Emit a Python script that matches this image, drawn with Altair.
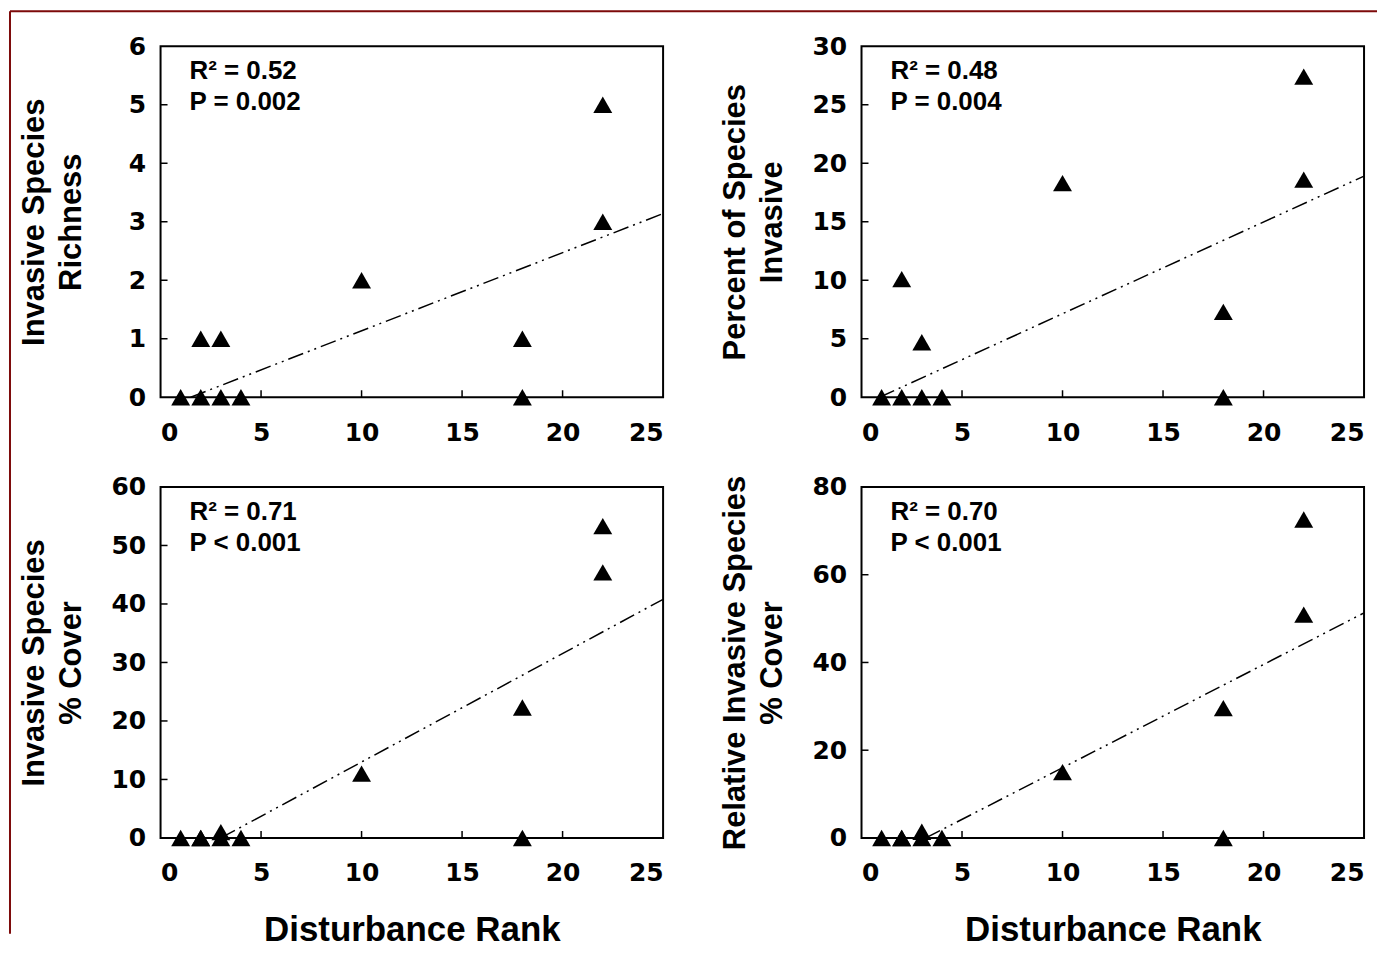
import altair as alt
import pandas as pd

# ---- data ----
rank = [1, 2, 2, 3, 3, 4, 10, 18, 18, 22, 22]
richness = [0, 0, 1, 0, 1, 0, 2, 1, 0, 5, 3]
pct_invasive = [0, 0, 10.1, 0, 4.7, 0, 18.3, 7.3, 0, 27.4, 18.6]
cover = [0, 0, 0, 1.0, 0, 0, 11.0, 22.3, 0, 53.3, 45.4]
rel_cover = [0, 0, 0, 1.4, 0, 0, 15.0, 29.6, 0, 72.6, 50.9]

fit_richness_x = [1.5, 25]
fit_richness_y = [0, 3.14]
fit_pct_x = [0.9, 25]
fit_pct_y = [0, 18.9]
fit_cover_x = [3.0, 25]
fit_cover_y = [0, 40.8]
fit_rel_x = [3.2, 25]
fit_rel_y = [0, 51.3]

x_ticks = [0, 5, 10, 15, 20, 25]
richness_ticks = [0, 1, 2, 3, 4, 5, 6]
pct_ticks = [0, 5, 10, 15, 20, 25, 30]
cover_ticks = [0, 10, 20, 30, 40, 50, 60]
rel_ticks = [0, 20, 40, 60, 80]

titles = [
    ["Invasive Species", "Richness"],
    ["Percent of Species", "Invasive"],
    ["Invasive Species", "% Cover"],
    ["Relative Invasive Species", "% Cover"],
]
r2_text = ["R² = 0.52", "R² = 0.48", "R² = 0.71", "R² = 0.70"]
p_text = ["P = 0.002", "P = 0.004", "P < 0.001", "P < 0.001"]
x_title = "Disturbance Rank"

W, H = 504, 352
TICK = 7
FRAME_RED = "#7d0a0a"


def panel(ys, fx, fy, yticks, ytitle, r2, p, show_xtitle, frame=False):
    ymax = yticks[-1]
    xs = alt.Scale(domain=[0, 25], nice=False, zero=False)
    ysc = alt.Scale(domain=[0, ymax], nice=False)
    pts = pd.DataFrame({"x": rank, "y": ys})
    fit = pd.DataFrame({"x": fx, "y": fy})
    xaxis = alt.Axis(
        values=x_ticks,
        ticks=False,
        domain=False,
        grid=False,
        labelPadding=23,
        titleY=103,
        titleBaseline="alphabetic",
        title=x_title if show_xtitle else "",
    )
    yaxis = alt.Axis(
        values=yticks,
        ticks=False,
        domain=False,
        grid=False,
        labelPadding=15,
        title=ytitle,
        titleX=-126,
        titleY=H / 2,
        titleAngle=270,
        titleBaseline="middle",
        titleLineHeight=37,
    )
    X = lambda: alt.X("x:Q", scale=xs, axis=xaxis)
    Y = lambda: alt.Y("y:Q", scale=ysc, axis=yaxis)

    base_pts = (
        alt.Chart(pts)
        .mark_point(shape="triangle-up", filled=True, color="black", size=360, opacity=1)
        .encode(x=X(), y=Y())
    )
    line = (
        alt.Chart(fit)
        .mark_line(color="black", strokeWidth=1.5, strokeDash=[16, 5, 2, 5, 2, 5])
        .encode(x=X(), y=Y())
    )
    ytk = (
        alt.Chart(pd.DataFrame({"y": yticks[1:-1]}))
        .mark_rule(color="black", strokeWidth=1.5)
        .encode(y=Y(), x=alt.value(0), x2=alt.value(TICK))
    )
    xtk = (
        alt.Chart(pd.DataFrame({"x": x_ticks[1:-1]}))
        .mark_rule(color="black", strokeWidth=1.5)
        .encode(x=X(), y=alt.value(H), y2=alt.value(H - TICK))
    )
    txt = dict(
        align="left",
        baseline="middle",
        font="Liberation Sans",
        fontWeight="bold",
        fontSize=26,
        color="black",
    )
    ann1 = (
        alt.Chart(pd.DataFrame({"t": [r2]}))
        .mark_text(**txt)
        .encode(text="t:N", x=alt.value(29), y=alt.value(25))
    )
    ann2 = (
        alt.Chart(pd.DataFrame({"t": [p]}))
        .mark_text(**txt)
        .encode(text="t:N", x=alt.value(29), y=alt.value(56))
    )
    layers = [base_pts, line, ytk, xtk, ann1, ann2]
    if frame:
        # decorative dark-red slide frame (top and left edges)
        edge = dict(color=FRAME_RED, strokeWidth=2, strokeJoin="bevel", strokeCap="butt")
        top_edge = (
            alt.Chart(pd.DataFrame({"k": [0]}))
            .mark_rule(**edge)
            .encode(x=alt.value(-151), x2=alt.value(1220), y=alt.value(-35))
        )
        left_edge = (
            alt.Chart(pd.DataFrame({"k": [0]}))
            .mark_rule(**edge)
            .encode(x=alt.value(-151), y=alt.value(-35), y2=alt.value(890))
        )
        layers += [top_edge, left_edge]
    return alt.layer(*layers).properties(width=W, height=H)


p1 = panel(richness, fit_richness_x, fit_richness_y, richness_ticks, titles[0], r2_text[0], p_text[0], False, frame=True)
p2 = panel(pct_invasive, fit_pct_x, fit_pct_y, pct_ticks, titles[1], r2_text[1], p_text[1], False)
p3 = panel(cover, fit_cover_x, fit_cover_y, cover_ticks, titles[2], r2_text[2], p_text[2], True)
p4 = panel(rel_cover, fit_rel_x, fit_rel_y, rel_ticks, titles[3], r2_text[3], p_text[3], True)

chart = (
    alt.concat(p1, p2, p3, p4, columns=2, spacing={"row": 90, "column": 199}, bounds="flush")
    .properties(padding={"left": 0, "top": 0, "right": 0, "bottom": 0}, background="white")
    .configure_view(stroke="black", strokeWidth=2)
    .configure_axis(
        labelFont="DejaVu Sans",
        labelFontWeight="bold",
        labelFontSize=25,
        labelColor="black",
        titleFont="Liberation Sans",
        titleFontWeight="bold",
        titleFontSize=31,
        titleColor="black",
    )
    .configure_axisX(titleFontSize=35)
)

chart.save("out.html", embed_options={"renderer": "svg", "actions": False})
